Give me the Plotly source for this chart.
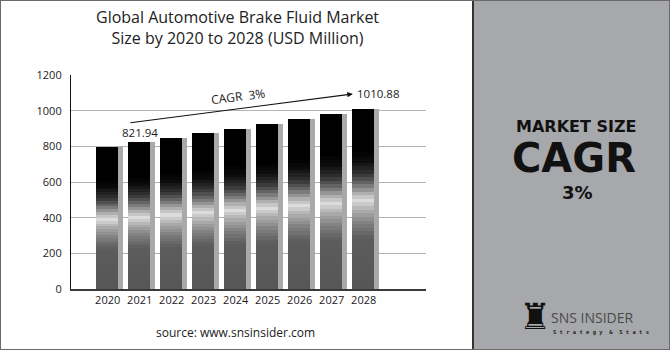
import plotly.graph_objects as go

# ---- data ----
years = [2020, 2021, 2022, 2023, 2024, 2025, 2026, 2027, 2028]
year_labels = [str(y) for y in years]
market_size = [798, 821.94, 847, 873, 899, 925, 953, 981, 1010.88]
y_ticks = [0, 200, 400, 600, 800, 1000, 1200]
cagr_text = "3%"

W, H = 670, 350
FONT = "Open Sans"

def px(x):
    return x / W

def py(y):
    return 1 - y / H

fig = go.Figure()

# shadow bars (grey strip at right of each bar)
fig.add_trace(go.Bar(
    x=years, y=market_size, base=[0] * len(years),
    offset=-0.27, width=0.76,
    marker=dict(color="#a9a9ab", line=dict(width=0)),
    hoverinfo="skip", showlegend=False,
))

# vertical "metallic" gradient, built as stacked slices of each bar
stops = [(0.0, 86), (0.28, 92), (0.36, 125), (0.44, 175), (0.49, 220),
         (0.53, 175), (0.58, 110), (0.64, 50), (0.71, 12), (0.77, 0), (1.0, 0)]

def grey_at(f):
    for (f0, g0), (f1, g1) in zip(stops[:-1], stops[1:]):
        if f0 <= f <= f1:
            t = (f - f0) / (f1 - f0) if f1 > f0 else 0
            return int(round(g0 + t * (g1 - g0)))
    return stops[-1][1]

N = 50
for k in range(N):
    f = (k + 0.5) / N
    g = grey_at(f)
    fig.add_trace(go.Bar(
        x=years,
        y=[v / N * 1.02 for v in market_size] if k < N - 1 else [v / N for v in market_size],
        base=[v * k / N for v in market_size],
        offset=-0.36, width=0.69,
        marker=dict(color=f"rgb({g},{g},{g})", line=dict(width=0)),
        hoverinfo="skip", showlegend=False,
    ))

shapes = [
    # right panel
    dict(type="rect", xref="paper", yref="paper", x0=px(473), x1=1, y0=0, y1=1,
         fillcolor="#a7a8ab", line=dict(width=0), layer="below"),
    dict(type="line", xref="paper", yref="paper", x0=px(473), x1=px(473), y0=0, y1=1,
         line=dict(color="#333333", width=2)),
    # outer border
    dict(type="rect", xref="paper", yref="paper", x0=0, x1=1, y0=0, y1=1,
         line=dict(color="#6a6a6a", width=2), fillcolor="rgba(0,0,0,0)"),
]

def ann(**kw):
    kw.setdefault("showarrow", False)
    kw.setdefault("xanchor", "center")
    kw.setdefault("yanchor", "middle")
    return kw

annotations = [
    ann(text="Global Automotive Brake Fluid Market<br>Size by 2020 to 2028 (USD Million)",
        xref="paper", yref="paper", x=px(237), y=py(27),
        font=dict(family=FONT, size=16, color="#222222"), align="center"),
    ann(text="source: www.snsinsider.com", xref="paper", yref="paper",
        x=px(235), y=py(332),
        font=dict(family=FONT, size=12, color="#222222")),
    # CAGR arrow
    dict(x=2027.66, y=1094, ax=2020.66, ay=931, xref="x", yref="y", axref="x", ayref="y",
         text="", showarrow=True, arrowhead=2, arrowsize=1, arrowwidth=1.1,
         arrowcolor="#111111"),
    ann(text=f"CAGR  {cagr_text}", x=2024.07, y=1077, xref="x", yref="y",
        textangle=-7,
        font=dict(family=FONT, size=12, color="#222222")),
    ann(text=f"{market_size[1]:.2f}", x=years[1], y=878, xref="x", yref="y",
        font=dict(family=FONT, size=11.5, color="#222222")),
    ann(text=f"{market_size[-1]:.2f}", x=2027.72, y=1094, xref="x", yref="y",
        xanchor="left",
        font=dict(family=FONT, size=11.5, color="#222222")),
    # right panel texts
    ann(text="<b>MARKET SIZE</b>", xref="paper", yref="paper", x=px(576), y=py(126.5),
        font=dict(family="DejaVu Sans", size=16, color="#111111")),
    ann(text="<b>CAGR</b>", xref="paper", yref="paper", x=px(574), y=py(158),
        font=dict(family="DejaVu Sans", size=40, color="#111111")),
    ann(text=f"<b>{cagr_text}</b>", xref="paper", yref="paper", x=px(577), y=py(193),
        font=dict(family="DejaVu Sans", size=18, color="#111111")),
    # logo
    ann(text="♜", xref="paper", yref="paper", x=px(535), y=py(316),
        font=dict(family="DejaVu Sans", size=36, color="#111111")),
    ann(text="SNS INSIDER", xref="paper", yref="paper", x=px(549), y=py(317),
        xanchor="left",
        font=dict(family="Open Sans", size=14, color="#4a4a4a")),
    ann(text="<b>S t r a t e g y  &  S t a t s</b>", xref="paper", yref="paper",
        x=px(551), y=py(332), xanchor="left",
        font=dict(family="DejaVu Sans Mono", size=5.5, color="#222222")),
]

fig.update_layout(
    width=W, height=H,
    margin=dict(l=0, r=0, t=0, b=0, pad=0),
    autosize=False,
    paper_bgcolor="white", plot_bgcolor="white",
    barmode="overlay", bargap=0,
    shapes=shapes, annotations=annotations,
    showlegend=False,
    xaxis=dict(domain=[px(71), px(426)], range=[2018.853, 2029.947],
               tickvals=years, ticktext=year_labels, showgrid=False,
               showline=True, linecolor="#3a3a3a", linewidth=1.5,
               ticks="", tickfont=dict(family=FONT, size=11, color="#222222"),
               fixedrange=True, zeroline=False, automargin=False),
    yaxis=dict(domain=[py(289), py(75)], range=[0, 1200], tickvals=y_ticks,
               showgrid=True, gridcolor="#b4b4b4", gridwidth=1,
               showline=True, linecolor="#111111", linewidth=1.2,
               ticks="", ticklabelstandoff=6,
               tickfont=dict(family=FONT, size=11, color="#222222"),
               zeroline=False, fixedrange=True, automargin=False),
)

fig.write_html("out.html", config={"displayModeBar": False})
